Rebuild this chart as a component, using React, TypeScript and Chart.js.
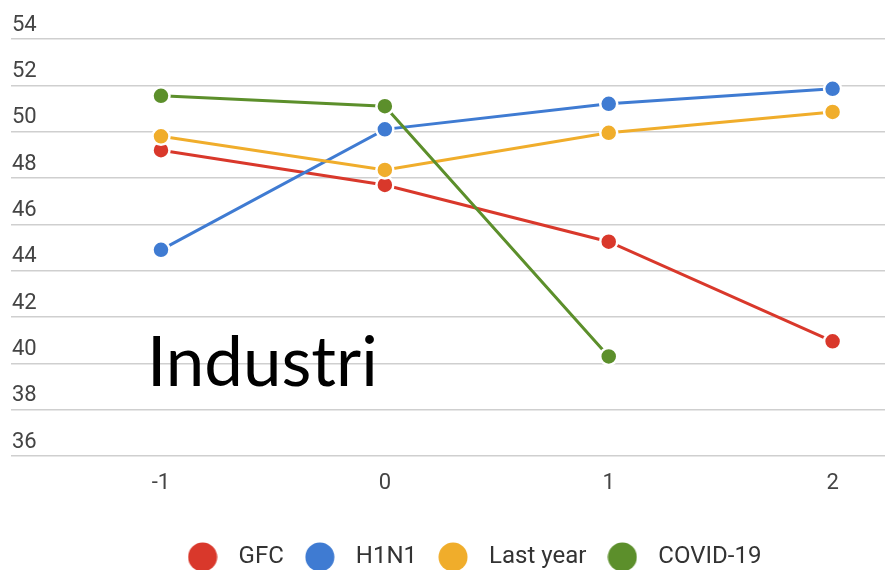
import { useEffect, useRef } from 'react';
import { Chart, registerables } from 'chart.js';

Chart.register(...registerables);

// ---- data ----
const categories = [-1, 0, 1, 2];
const xTickLabels = ['-1', '0', '1', '2'];
const seriesNames = ['GFC', 'H1N1', 'Last year', 'COVID-19'];
const gfcValues = [49.2, 47.7, 45.25, 40.95];
const h1n1Values = [44.9, 50.1, 51.2, 51.85];
const lastYearValues = [49.8, 48.35, 49.95, 50.85];
const covidValues: (number | null)[] = [51.55, 51.1, 40.3, null];
const yMin = 36;
const yMax = 54;
const yStep = 2;
const overlayText = 'Industri';

const seriesColors = ['#d9382b', '#3f7bd2', '#f0ad2b', '#5c8f2b'];

export default function App() {
  const ref = useRef<HTMLCanvasElement>(null);

  useEffect(() => {
    document.body.style.margin = '0';
    const canvas = ref.current!;
    const allValues = [gfcValues, h1n1Values, lastYearValues, covidValues];

    const dots = seriesColors.map((c) => {
      const cv = document.createElement('canvas');
      cv.width = 30;
      cv.height = 30;
      const g = cv.getContext('2d')!;
      g.fillStyle = c;
      g.beginPath();
      g.arc(15, 15, 14.5, 0, Math.PI * 2);
      g.fill();
      return cv;
    });

    const overlayPlugin = {
      id: 'overlayText',
      afterDraw(chart: any) {
        const ctx = chart.ctx;
        ctx.save();
        ctx.font = '69px Lato';
        ctx.fillStyle = '#000';
        ctx.textAlign = 'left';
        ctx.textBaseline = 'alphabetic';
        ctx.fillText(overlayText, 147, 386);
        ctx.restore();
      },
    };

    const tickFont = { family: 'Roboto', size: 22 };

    const chart = new Chart(canvas, {
      type: 'line',
      data: {
        datasets: seriesNames.map((name, i) => ({
          label: name,
          data: categories.map((x, j) => ({ x, y: allValues[i][j] as any })),
          borderColor: seriesColors[i],
          backgroundColor: seriesColors[i],
          borderWidth: 3,
          pointRadius: 8.5,
          pointBorderWidth: 2.5,
          pointBorderColor: '#ffffff',
          pointBackgroundColor: seriesColors[i],
          tension: 0,
          order: seriesNames.length - i,
        })),
      },
      options: {
        animation: false,
        responsive: false,
        layout: { padding: { top: 39, left: 10, right: 0, bottom: 0 } },
        scales: {
          x: {
            type: 'linear',
            min: -1.67,
            max: 2.386,
            afterBuildTicks: (s: any) => {
              s.ticks = categories.map((v) => ({ value: v }));
            },
            afterFit: (s: any) => {
              s.height = 77;
            },
            grid: { display: false },
            border: { display: false },
            ticks: {
              autoSkip: false,
              maxRotation: 0,
              padding: 6,
              font: tickFont,
              color: '#444',
              callback: (v: any) => {
                const idx = categories.indexOf(Number(v));
                return idx >= 0 ? xTickLabels[idx] : '';
              },
            },
          },
          y: {
            min: yMin,
            max: yMax,
            afterFit: (s: any) => {
              s.width = 0;
            },
            grid: { color: '#cfcfcf', lineWidth: 1.6, drawTicks: false },
            border: { display: false },
            ticks: {
              stepSize: yStep,
              mirror: true,
              padding: 1,
              labelOffset: -14,
              font: tickFont,
              color: '#444',
            },
          },
        },
        plugins: {
          tooltip: { enabled: false },
          legend: {
            position: 'bottom',
            align: 'center',
            labels: {
              usePointStyle: true,
              pointStyleWidth: 48,
              boxHeight: 24,
              padding: 12,
              color: '#333',
              font: { family: 'Roboto', size: 24 },
              generateLabels: (ch: any) => {
                const items = (Chart.defaults.plugins.legend.labels as any).generateLabels(ch);
                items.sort((a: any, b: any) => a.datasetIndex - b.datasetIndex);
                return items.map((it: any) => ({ ...it, pointStyle: dots[it.datasetIndex] }));
              },
            },
          },
        },
      } as any,
      plugins: [overlayPlugin],
    });

    return () => chart.destroy();
  }, []);

  return (
    <div style={{ position: 'relative', width: 885, height: 570, overflow: 'hidden', background: '#fff' }}>
      <canvas ref={ref} width={930} height={579} style={{ display: 'block', width: 930, height: 579 }} />
    </div>
  );
}
